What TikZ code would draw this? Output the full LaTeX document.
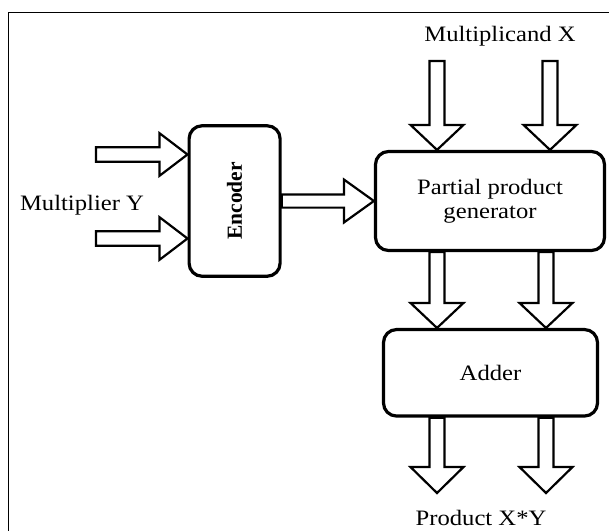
\documentclass[tikz,border=0pt]{standalone}
\usepackage{fontspec}
\usepackage{graphicx}
\setmainfont{Liberation Serif}
\usetikzlibrary{calc}
\pgfdeclarelayer{background}
\pgfsetlayers{background,main}

% slightly widened text
\newcommand{\wt}[1]{\scalebox{1.12}[1]{#1}}

% hollow block arrow: from, tip, shaft half width, head half width, head length
\newcommand{\fatarrow}[5]{%
  \coordinate (fa-base) at ($(#2)!#5!(#1)$);
  \draw[arrowline] ($(#1)!#3!90:(#2)$) -- ($(fa-base)!#3!90:(#2)$)
    -- ($(fa-base)!#4!90:(#2)$) -- (#2) -- ($(fa-base)!#4!-90:(#2)$)
    -- ($(fa-base)!#3!-90:(#2)$) -- ($(#1)!#3!-90:(#2)$) -- cycle;}

\begin{document}
\begin{tikzpicture}[x=1pt,y=-1pt,
  txt/.style={font=\fontsize{22}{24.4}\selectfont, inner sep=0pt},
  block/.style={draw, line width=3.2pt, rounded corners=13pt, inner sep=0pt,
    align=center, font=\fontsize{22}{24.4}\selectfont},
  arrowline/.style={draw, line width=2.2pt, line join=miter, fill=white}]
\useasboundingbox (0,0) rectangle (609,530);

% outer frame
\draw[line width=1.4pt] (8.5,545) -- (8.5,12.5) -- (625,12.5);

% blocks
\node[block, minimum width=91pt, minimum height=150.5pt] (enc) at (234.6,201)
  {\rotatebox{90}{\fontsize{21.5}{23}\selectfont\bfseries Encoder}};
\node[block, minimum width=229pt, minimum height=99pt] (ppg) at (490,201)
  {\wt{Partial product}\\\wt{generator}};
\node[block, minimum width=214pt, minimum height=86.5pt] (add) at (490.5,372.8)
  {\wt{Adder}};

% labels
\node[txt] (mx) at (500,36) {\wt{Multiplicand X}};
\node[txt] (my) at (82,205) {\wt{Multiplier Y}};
\node[txt] (pxy) at (481,518) {\wt{Product X*Y}};

% arrow end points
\coordinate (yin1) at (96,154.5);
\coordinate (yin2) at (96,238.5);
\coordinate (xin1) at (437,61);
\coordinate (xin2) at (550,61);
\coordinate (out1) at (437,493);
\coordinate (out2) at (546,493);
\coordinate (e1) at (enc.west |- yin1);
\coordinate (e2) at (enc.west |- yin2);
\coordinate (t1) at (xin1 |- ppg.north);
\coordinate (t2) at (xin2 |- ppg.north);
\coordinate (m1) at (out1 |- ppg.south);
\coordinate (m2) at (out2 |- ppg.south);
\coordinate (a1) at (out1 |- add.north);
\coordinate (a2) at (out2 |- add.north);
\coordinate (b1) at (out1 |- add.south);
\coordinate (b2) at (out2 |- add.south);

\begin{pgfonlayer}{background}
  \fatarrow{yin1}{e1}{7.2pt}{21.3pt}{28pt}
  \fatarrow{yin2}{e2}{7.2pt}{21.3pt}{28pt}
  \fatarrow{enc.east}{ppg.west}{6.6pt}{21.5pt}{30pt}
  \fatarrow{xin1}{t1}{7.5pt}{26.5pt}{25pt}
  \fatarrow{xin2}{t2}{7.5pt}{26.5pt}{25pt}
  \fatarrow{m1}{a1}{7.5pt}{26.5pt}{25pt}
  \fatarrow{m2}{a2}{7.5pt}{26.5pt}{25pt}
  \fatarrow{b1}{out1}{7.5pt}{26.5pt}{26pt}
  \fatarrow{b2}{out2}{7.5pt}{26.5pt}{26pt}
\end{pgfonlayer}
\end{tikzpicture}
\end{document}
